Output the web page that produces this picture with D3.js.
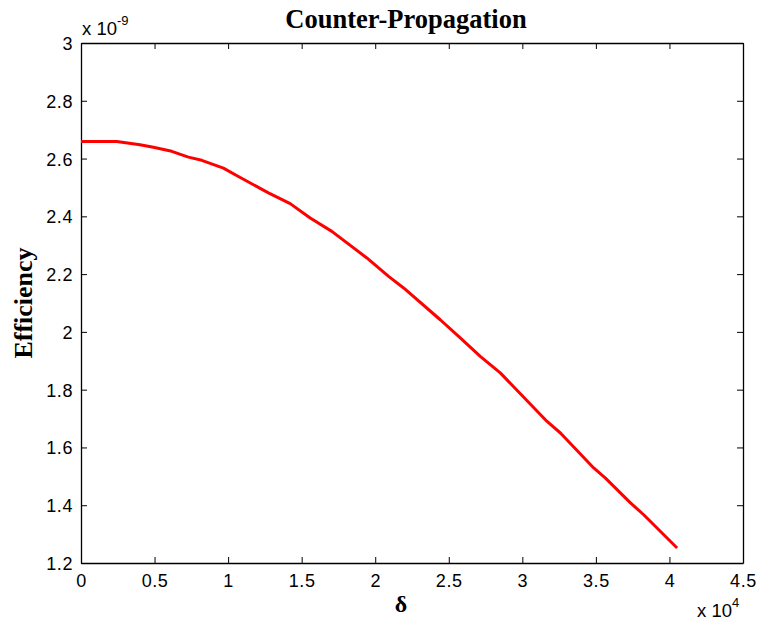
<!DOCTYPE html>
<html>
<head>
<meta charset="utf-8">
<script src="https://cdn.jsdelivr.net/npm/d3@7"></script>
<style>
  html, body { margin: 0; padding: 0; background: #fff; }
  svg { display: block; }
</style>
</head>
<body>
<div id="chart"></div>
<script>
// ---- data (delta in units of 1e4, efficiency in units of 1e-9) ----
const deltaValues = [0, 0.243, 0.401, 0.492, 0.617, 0.73, 0.821, 0.968, 1.07, 1.274, 1.422, 1.558, 1.705, 1.943, 2.091, 2.193, 2.442, 2.578, 2.714, 2.85, 3.168, 3.259, 3.485, 3.565, 3.735, 3.825, 4.052];
const efficiencyValues = [2.659, 2.659, 2.648, 2.639, 2.625, 2.605, 2.594, 2.567, 2.538, 2.481, 2.444, 2.394, 2.348, 2.256, 2.192, 2.152, 2.042, 1.979, 1.915, 1.858, 1.690, 1.650, 1.529, 1.494, 1.408, 1.367, 1.252];
const xTicks = [0, 0.5, 1, 1.5, 2, 2.5, 3, 3.5, 4, 4.5];
const yTicks = [1.2, 1.4, 1.6, 1.8, 2, 2.2, 2.4, 2.6, 2.8, 3];
const titleText = "Counter-Propagation";
const xLabel = "δ";
const yLabel = "Efficiency";

const W = 758, H = 626;
const mLeft = 81, mRight = 743, mTop = 43, mBottom = 563;

const svg = d3.select("#chart").append("svg").attr("width", W).attr("height", H);

const x = d3.scaleLinear().domain([0, 4.5]).range([mLeft, mRight]);
const y = d3.scaleLinear().domain([1.2, 3]).range([mBottom, mTop]);

const sans = "'Liberation Sans', Arial, Helvetica, sans-serif";
const serif = "'Liberation Serif', 'Times New Roman', serif";

const fmt = d => String(d);

// axes: ticks inward
const gB = svg.append("g").attr("transform", `translate(0,${mBottom})`)
  .call(d3.axisBottom(x).tickValues(xTicks).tickFormat(fmt).tickSizeInner(-6).tickSizeOuter(0).tickPadding(10));
const gT = svg.append("g").attr("transform", `translate(0,${mTop})`)
  .call(d3.axisTop(x).tickValues(xTicks).tickFormat("").tickSizeInner(-6).tickSizeOuter(0));
const gL = svg.append("g").attr("transform", `translate(${mLeft},0)`)
  .call(d3.axisLeft(y).tickValues(yTicks).tickFormat(fmt).tickSizeInner(-6).tickSizeOuter(0).tickPadding(8));
const gR = svg.append("g").attr("transform", `translate(${mRight},0)`)
  .call(d3.axisRight(y).tickValues(yTicks).tickFormat("").tickSizeInner(-6).tickSizeOuter(0));

[gB, gT, gL, gR].forEach(g => {
  g.selectAll("path.domain").attr("stroke", "#000").attr("stroke-width", 1.3);
  g.selectAll(".tick line").attr("stroke", "#000").attr("stroke-width", 1);
  g.selectAll(".tick text").attr("fill", "#000").style("font-family", sans)
    .style("font-size", "18px").style("letter-spacing", "0.6px");
});
gB.selectAll(".tick text").attr("dy", "0.78em");
gL.selectAll(".tick text").attr("dy", "0.36em");

// red curve
const pts = deltaValues.map((d, i) => [d, efficiencyValues[i]]);
svg.append("path")
  .datum(pts)
  .attr("fill", "none")
  .attr("stroke", "#ff0000")
  .attr("stroke-width", 3)
  .attr("stroke-linejoin", "round")
  .attr("d", d3.line().x(d => x(d[0])).y(d => y(d[1])));

// title
svg.append("text").attr("x", 406).attr("y", 28).attr("text-anchor", "middle")
  .style("font-family", serif).style("font-weight", "bold").style("font-size", "26.5px")
  .text(titleText);

// axis labels
svg.append("text").attr("x", 401).attr("y", 612).attr("text-anchor", "middle")
  .style("font-family", serif).style("font-weight", "bold").style("font-size", "24px")
  .text(xLabel);
svg.append("text").attr("transform", `translate(32,303) rotate(-90)`).attr("text-anchor", "middle")
  .style("font-family", serif).style("font-weight", "bold").style("font-size", "26px")
  .text(yLabel);

// exponent multipliers
const m1 = svg.append("text").attr("x", 82).attr("y", 35)
  .style("font-family", sans).style("font-size", "18.5px").attr("fill", "#000");
m1.append("tspan").text("x 10");
m1.append("tspan").attr("dy", -10).style("font-size", "13px").text("-9");

const m2 = svg.append("text").attr("x", 697).attr("y", 617)
  .style("font-family", sans).style("font-size", "18.5px").attr("fill", "#000");
m2.append("tspan").text("x 10");
m2.append("tspan").attr("dy", -10).style("font-size", "13px").text("4");
</script>
</body>
</html>
